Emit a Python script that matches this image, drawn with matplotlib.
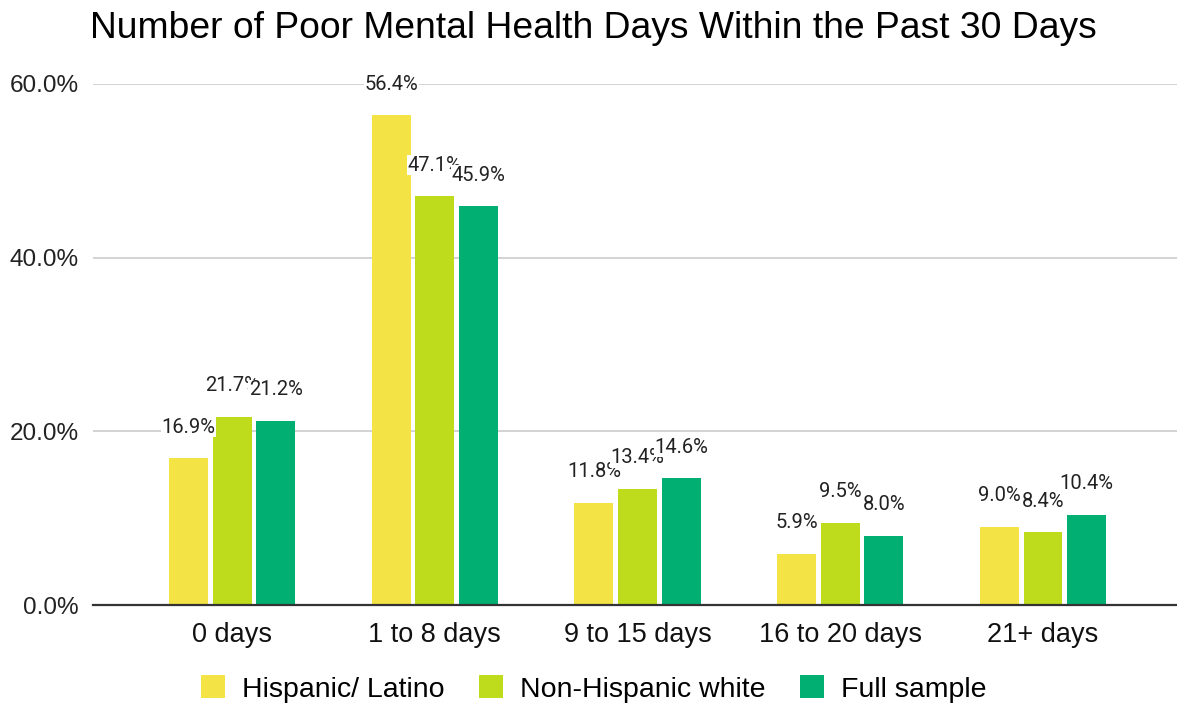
import matplotlib
matplotlib.use("Agg")
import matplotlib.pyplot as plt
from matplotlib.patches import Patch
import numpy as np

categories = ["0 days", "1 to 8 days", "9 to 15 days", "16 to 20 days", "21+ days"]
series_names = ["Hispanic/ Latino", "Non-Hispanic white", "Full sample"]
hispanic = [16.9, 56.4, 11.8, 5.9, 9.0]
nonhisp_white = [21.7, 47.1, 13.4, 9.5, 8.4]
full_sample = [21.2, 45.9, 14.6, 8.0, 10.4]
yticks = [0, 20, 40, 60]
ytick_labels = ["0.0%", "20.0%", "40.0%", "60.0%"]

colors = ["#F3E344", "#BFDC1C", "#00AF71"]
series = [hispanic, nonhisp_white, full_sample]

W, H = 1177, 704
fig = plt.figure(figsize=(W / 100, H / 100), dpi=100)
ax = fig.add_axes([93 / W, (H - 605) / H, (W - 93) / W, (605 - 84) / H])

x = np.arange(len(categories))
width = 0.192
step = 0.215
for i, (vals, col) in enumerate(zip(series, colors)):
    pos = x + (i - 1) * step
    ax.bar(pos, vals, width=width, color=col, zorder=2)

for i, vals in enumerate(series):
    pos = x + (i - 1) * step
    for p, v in zip(pos, vals):
        ax.annotate(f"{v:.1f}%", xy=(p, v), xytext=(0, 22.3), textcoords="offset points",
                    ha="center", va="center", fontsize=14.5, family="Roboto", color="#222222",
                    bbox=dict(boxstyle="square,pad=0.03", fc="white", ec="none"),
                    zorder=5, annotation_clip=False)

ax.set_xlim(-0.686, 4.661)
ax.set_ylim(0, 60)
ax.set_yticks(yticks)
ax.set_yticklabels(ytick_labels, family="Liberation Sans", fontsize=17.5, color="#222222")
ax.set_xticks(x)
ax.set_xticklabels(categories, family="Liberation Sans", fontsize=19.5, color="#111111")
ax.tick_params(axis="both", length=0)
ax.tick_params(axis="y", pad=10)
ax.tick_params(axis="x", pad=12)
ax.grid(axis="y", color="#CCCCCC", linewidth=1.2, zorder=0)
for s in ["top", "right", "left"]:
    ax.spines[s].set_visible(False)
ax.spines["bottom"].set_color("#333333")
ax.spines["bottom"].set_linewidth(1.6)
ax.spines["bottom"].set_zorder(3)

fig.text(90 / W, 1 - 28 / H, "Number of Poor Mental Health Days Within the Past 30 Days",
         ha="left", va="center", fontsize=26.8, family="Liberation Sans", color="#000000")

handles = [Patch(facecolor=c, edgecolor="none") for c in colors]
fig.legend(handles, series_names, loc="center", bbox_to_anchor=(594 / W, 1 - 689 / H),
           ncol=3, frameon=False, prop=dict(family="Liberation Sans", size=20.5),
           handlelength=0.85, handleheight=0.85, handletextpad=0.6, columnspacing=1.2)

fig.savefig("out.png", dpi=100)
